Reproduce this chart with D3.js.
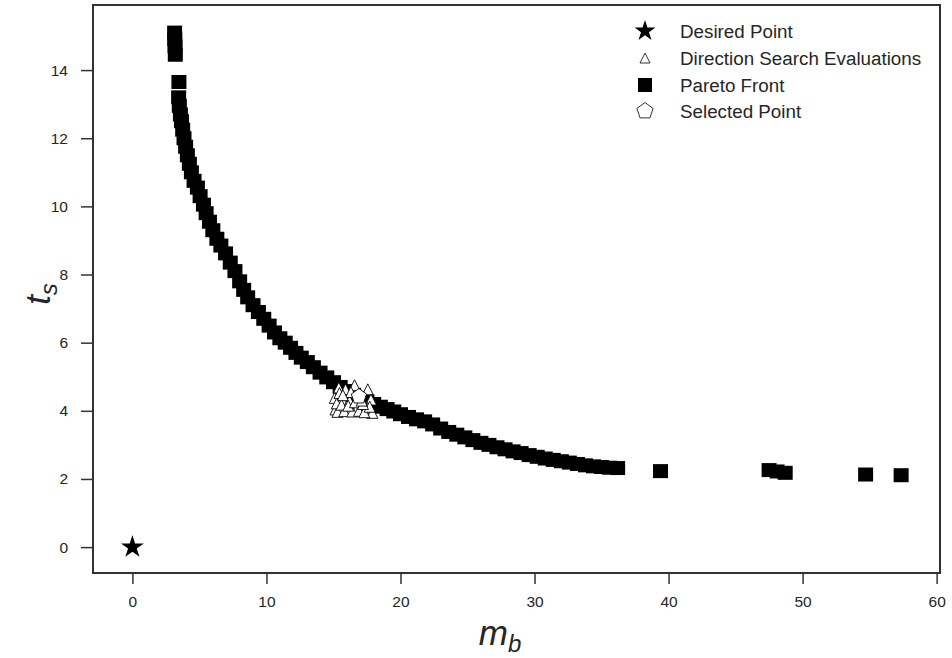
<!DOCTYPE html>
<html>
<head>
<meta charset="utf-8">
<script src="https://cdn.jsdelivr.net/npm/d3@7"></script>
<style>
  body { margin: 0; background: #fff; }
  text { font-family: "Liberation Sans", Arial, sans-serif; fill: #262626; }
  .frame { fill: none; stroke: #333; stroke-width: 2; }
  .tick line { stroke: #333; stroke-width: 1.5; }
  .tick text { font-size: 15.5px; font-family: "Liberation Sans", Arial, sans-serif; fill: #262626; }
</style>
</head>
<body>
<svg id="chart" width="952" height="658"></svg>
<script>
// pareto front (m_b, t_s)
var paretoM = [3.15, 3.16, 3.18, 3.2, 3.47,
  3.45, 3.5, 3.58, 3.66, 3.75, 3.85, 3.97, 4.1, 4.25, 4.4, 4.6, 4.85, 5.05, 5.3, 5.5,
  5.75, 6.0, 6.3, 6.6, 6.95, 7.3, 7.65, 8.0, 8.3, 8.6, 9.0, 9.4, 9.8, 10.2, 10.6,
  11.0, 11.4, 11.8, 12.2, 12.6, 13.05, 13.5, 14.0, 14.5, 15.0, 15.5, 16.0, 16.5, 17.0,
  17.5, 18.0, 18.5, 19.0, 19.5, 20.0, 20.6, 21.2, 21.8, 22.4, 23.0, 23.6, 24.2, 24.8,
  25.4, 26.0, 26.6, 27.2, 27.8, 28.4, 29.0, 29.6, 30.2, 30.8, 31.4, 32.0, 32.6, 33.2,
  33.8, 34.4, 35.0, 35.6, 36.2,
  39.4, 47.5, 48.1, 48.7, 54.7, 57.35];
var paretoT = [15.1, 14.9, 14.7, 14.45, 13.65,
  13.2, 12.95, 12.7, 12.5, 12.25, 12.0, 11.75, 11.5, 11.25, 11.0, 10.75, 10.55, 10.3, 10.05, 9.8,
  9.55, 9.3, 9.05, 8.85, 8.62, 8.35, 8.1, 7.8, 7.55, 7.33, 7.1, 6.9, 6.7, 6.5, 6.3,
  6.13, 6.0, 5.85, 5.7, 5.56, 5.43, 5.28, 5.12, 4.98, 4.84, 4.7, 4.58, 4.47, 4.37,
  4.28, 4.2, 4.12, 4.05, 3.98, 3.9, 3.82, 3.75, 3.69, 3.6, 3.48, 3.38, 3.3, 3.22,
  3.14, 3.06, 3.0, 2.93, 2.87, 2.81, 2.76, 2.7, 2.65, 2.6, 2.56, 2.52, 2.48, 2.44,
  2.4, 2.37, 2.35, 2.33, 2.32,
  2.23, 2.26, 2.22, 2.18, 2.13, 2.11];

// direction search evaluations
var searchM = [15.4, 15.9, 16.57, 17.56, 15.1, 15.65, 16.2, 17.0, 17.8, 15.15, 15.5,
  16.0, 16.77, 17.5, 17.9, 15.3, 15.8, 16.4, 16.9, 17.3, 17.7,
  15.25, 15.6, 16.1, 16.6, 17.2, 15.45, 16.3, 17.1, 15.7];
var searchT = [4.68, 4.63, 4.75, 4.63, 4.38, 4.33, 4.29, 4.48, 4.33, 4.04, 4.09,
  4.04, 4.09, 4.09, 3.94, 3.97, 3.99, 3.98, 4.0, 3.96, 4.12,
  4.22, 4.18, 4.15, 4.25, 4.2, 4.52, 4.55, 4.3, 4.46];

var desiredPoint = [0, 0];
var selectedPoint = [16.9, 4.42];

var xTicks = [0, 10, 20, 30, 40, 50, 60];
var yTicks = [0, 2, 4, 6, 8, 10, 12, 14];
var legendLabels = ['Desired Point', 'Direction Search Evaluations', 'Pareto Front', 'Selected Point'];

var plotLeft = 93, plotRight = 940, plotTop = 5, plotBottom = 573;

var svg = d3.select('#chart');
var x = d3.scaleLinear().domain([-2.94, 60.25]).range([plotLeft, plotRight]);
var y = d3.scaleLinear().domain([-0.76, 15.91]).range([plotBottom, plotTop]);

function starPath(R) {
  var r = R * 0.38, pts = [];
  for (var i = 0; i < 10; i++) {
    var a = -Math.PI / 2 + i * Math.PI / 5;
    var rad = i % 2 ? r : R;
    pts.push([rad * Math.cos(a), rad * Math.sin(a)]);
  }
  return 'M' + pts.join('L') + 'Z';
}

function pentagonPath(R) {
  var pts = [];
  for (var i = 0; i < 5; i++) {
    var a = -Math.PI / 2 + i * 2 * Math.PI / 5;
    pts.push([R * Math.cos(a), R * Math.sin(a)]);
  }
  return 'M' + pts.join('L') + 'Z';
}

function trianglePath(w) {
  var h = w / 2;
  return 'M0,' + (-h) + 'L' + h + ',' + h + 'L' + (-h) + ',' + h + 'Z';
}

// axes
var xAxis = d3.axisBottom(x).tickValues(xTicks).tickSize(10).tickPadding(12);
var yAxis = d3.axisLeft(y).tickValues(yTicks).tickSize(11).tickPadding(13);

svg.append('g')
  .attr('transform', 'translate(0,' + (plotBottom + 1) + ')')
  .call(xAxis)
  .call(function (g) { g.select('.domain').remove(); });

svg.append('g')
  .attr('transform', 'translate(' + (plotLeft - 1) + ',0)')
  .call(yAxis)
  .call(function (g) { g.select('.domain').remove(); });

// pareto squares
var sq = 15;
svg.append('g').selectAll('rect')
  .data(paretoM.map(function (m, i) { return [m, paretoT[i]]; }))
  .enter().append('rect')
  .attr('x', function (d) { return x(d[0]) - sq / 2; })
  .attr('y', function (d) { return y(d[1]) - 7; })
  .attr('width', sq)
  .attr('height', 14)
  .attr('fill', '#000');

// direction search triangles
svg.append('g').selectAll('path')
  .data(searchM.map(function (m, i) { return [m, searchT[i]]; }))
  .enter().append('path')
  .attr('d', trianglePath(11))
  .attr('transform', function (d) { return 'translate(' + x(d[0]) + ',' + y(d[1]) + ')'; })
  .attr('fill', '#fff')
  .attr('stroke', '#000')
  .attr('stroke-width', 0.9);

// selected point
svg.append('path')
  .attr('d', pentagonPath(8))
  .attr('transform', 'translate(' + x(selectedPoint[0]) + ',' + y(selectedPoint[1]) + ')')
  .attr('fill', '#fff')
  .attr('stroke', '#000')
  .attr('stroke-width', 0.9);

// desired point
svg.append('path')
  .attr('d', starPath(12))
  .attr('transform', 'translate(' + x(desiredPoint[0]) + ',' + y(desiredPoint[1]) + ')')
  .attr('fill', '#000');

// frame
svg.append('rect')
  .attr('class', 'frame')
  .attr('x', plotLeft).attr('y', plotTop)
  .attr('width', plotRight - plotLeft).attr('height', plotBottom - plotTop);

// axis labels
svg.append('text')
  .attr('x', 500).attr('y', 645)
  .attr('text-anchor', 'middle')
  .style('font-size', '35px').style('font-style', 'italic')
  .html('m<tspan dy="7" style="font-size:24px">b</tspan>');

svg.append('text')
  .attr('transform', 'translate(50,294) rotate(-90)')
  .attr('text-anchor', 'middle')
  .style('font-size', '35px').style('font-style', 'italic')
  .html('t<tspan dy="7" style="font-size:24px">s</tspan>');

// legend
var legend = svg.append('g');
var rows = [31, 58, 85, 111];
legendLabels.forEach(function (label, i) {
  var g = legend.append('g').attr('transform', 'translate(645,' + rows[i] + ')');
  if (i === 0) g.append('path').attr('d', starPath(11)).attr('fill', '#000');
  if (i === 1) g.append('path').attr('d', trianglePath(10)).attr('fill', '#fff').attr('stroke', '#000').attr('stroke-width', 0.8);
  if (i === 2) g.append('rect').attr('x', -7).attr('y', -7).attr('width', 14).attr('height', 14).attr('fill', '#000');
  if (i === 3) g.append('path').attr('d', pentagonPath(8.5)).attr('fill', '#fff').attr('stroke', '#000').attr('stroke-width', 0.8);
  g.append('text').attr('x', 35).attr('y', 6.5).style('font-size', '18.8px').text(label);
});
</script>
</body>
</html>
